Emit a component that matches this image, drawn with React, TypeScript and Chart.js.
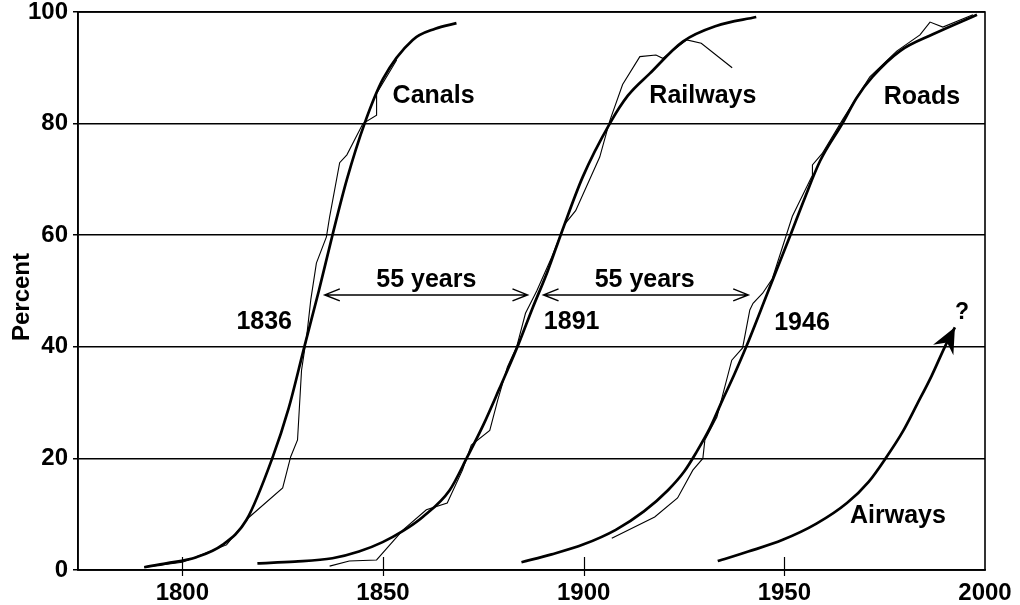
import React, { useEffect, useRef } from "react";
import { Chart, registerables } from "chart.js";

Chart.register(...registerables);

// ---- axis ticks ----
const xTickYears = [1800, 1850, 1900, 1950, 2000];
const yTickPercents = [0, 20, 40, 60, 80, 100];
const yAxisTitle = "Percent";

// ---- Canals ----
const canalsFitYears = [1790.5, 1796, 1803.5, 1810, 1816, 1822.4, 1826.5, 1830.4, 1834, 1837.4, 1841, 1845.4, 1850, 1857.4, 1863, 1868.3];
const canalsFitPct = [0.5, 1.2, 2.3, 4.5, 9, 20, 29, 40, 50, 60, 70, 80, 88, 95, 97, 98];
const canalsObsYears = [1790.5, 1800, 1811, 1816.7, 1825, 1827, 1828.7, 1829.7, 1831, 1832, 1833.4, 1835.9, 1836.7, 1839.2, 1841, 1845, 1848.4, 1848.4, 1853.4];
const canalsObsPct = [0.5, 1.4, 4.5, 9.5, 14.7, 20.3, 23.3, 35.8, 42, 48.4, 55, 59.7, 63.3, 73, 74.4, 80, 81.5, 85.4, 91.4];

// ---- Railways ----
const railFitYears = [1818.7, 1828, 1837.4, 1844, 1849.9, 1855, 1859.9, 1866.6, 1871.1, 1875, 1879, 1883.5, 1887.3, 1891, 1894.5, 1899.8, 1906.5, 1911, 1916.5, 1924.7, 1933, 1943];
const railFitPct = [1.2, 1.5, 2.1, 3.3, 5, 7, 9.5, 14.3, 20.4, 26, 32.5, 40, 47, 53.5, 60.5, 70.5, 80, 85, 89, 94.7, 97.5, 99.1];
const railObsYears = [1836.7, 1841.6, 1848.4, 1855, 1860.8, 1866, 1869.8, 1872, 1876.6, 1878.6, 1881, 1883.3, 1885.5, 1888.3, 1892, 1895.3, 1898, 1904, 1906.5, 1909.7, 1914, 1918, 1919.7, 1925.7, 1929.3, 1937];
const railObsPct = [0.7, 1.6, 1.8, 7.2, 10.8, 12, 17.9, 22.4, 25, 30.5, 36.4, 40, 46, 50, 56, 62, 64.4, 74, 80.5, 87, 92, 92.3, 91.7, 95, 94.4, 90];

// ---- Roads ----
const roadsFitYears = [1884.5, 1892, 1900, 1908, 1915, 1921, 1925, 1928, 1931.5, 1934.5, 1937.5, 1940.5, 1946, 1951.4, 1955, 1958.9, 1964.6, 1968, 1972, 1978.8, 1987, 1998];
const roadsFitPct = [1.4, 2.8, 4.6, 7.2, 10.5, 14.3, 17.6, 21, 25.5, 30.3, 35, 40, 50, 59.8, 66.5, 73.3, 80.2, 84.6, 88.4, 93, 96, 99.5];
const roadsObsYears = [1907, 1917.7, 1923.4, 1927.2, 1929.7, 1930.2, 1933.2, 1936.9, 1939.6, 1941.4, 1942.2, 1944.6, 1947, 1952, 1956.9, 1957, 1959.4, 1964.6, 1971.3, 1978, 1983.8, 1986.3, 1989.5, 1997];
const roadsObsPct = [5.7, 9.5, 12.9, 17.9, 20, 23.3, 27.4, 37.6, 39.8, 46.6, 47.8, 49.6, 52.2, 63.4, 70.6, 72.6, 74.6, 80.8, 88.4, 93, 95.9, 98.2, 97.3, 99.5];

// ---- Airways ----
const airYears = [1933.4, 1941, 1949.6, 1958, 1965.6, 1971, 1975.5, 1979.5, 1983, 1986.7, 1990, 1992.5];
const airPct = [1.6, 3.3, 5.4, 8.3, 12, 15.8, 20.3, 24.8, 29.6, 34.8, 40, 43.5];

// ---- annotations (data coordinates) ----
const labelTexts = ["Canals", "Railways", "Roads", "55 years", "55 years", "1836", "1891", "1946", "Airways", "?"];
const labelYears = [1862.6, 1929.7, 1984.3, 1860.8, 1915.2, 1820.4, 1897, 1954.4, 1978.3, 1994.3];
const labelPcts = [84.9, 84.9, 84.8, 52.0, 52.0, 44.4, 44.4, 44.3, 9.7, 46.1];
const spanStartYears = [1835.5, 1890];
const spanEndYears = [1886, 1941];
const spanPct = 49.3;

const FONT = '"Liberation Sans", Arial, Helvetica, sans-serif';

function pts(xs: number[], ys: number[]) {
  return xs.map((x, i) => ({ x, y: ys[i] }));
}

const fitStyle = {
  borderColor: "#000",
  borderWidth: 2.7,
  pointRadius: 0,
  showLine: true,
  tension: 0.4,
  cubicInterpolationMode: "monotone" as const,
  fill: false,
};
const obsStyle = {
  borderColor: "#000",
  borderWidth: 1.1,
  pointRadius: 0,
  showLine: true,
  tension: 0,
  fill: false,
};

const overlayPlugin = {
  id: "overlay",
  afterDatasetsDraw(chart: any) {
    const { ctx, chartArea: a, scales } = chart;
    const xs = scales.x;
    const ys = scales.y;
    ctx.save();
    ctx.strokeStyle = "#000";
    ctx.fillStyle = "#000";
    // frame
    ctx.lineWidth = 1.6;
    ctx.strokeRect(a.left, a.top, a.right - a.left, a.bottom - a.top);
    // x tick marks crossing the axis
    ctx.lineWidth = 1.2;
    for (const t of xTickYears) {
      if (t >= 2000) continue;
      const px = Math.round(xs.getPixelForValue(t)) + 0.5;
      ctx.beginPath();
      ctx.moveTo(px, a.bottom - 13);
      ctx.lineTo(px, a.bottom + 6);
      ctx.stroke();
    }
    // double-headed arrows
    ctx.lineWidth = 1.5;
    const py = ys.getPixelForValue(spanPct);
    for (let i = 0; i < spanStartYears.length; i++) {
      const x0 = xs.getPixelForValue(spanStartYears[i]);
      const x1 = xs.getPixelForValue(spanEndYears[i]);
      ctx.beginPath();
      ctx.moveTo(x0, py);
      ctx.lineTo(x1, py);
      ctx.moveTo(x0 + 15, py - 6);
      ctx.lineTo(x0, py);
      ctx.lineTo(x0 + 15, py + 6);
      ctx.moveTo(x1 - 15, py - 6);
      ctx.lineTo(x1, py);
      ctx.lineTo(x1 - 15, py + 6);
      ctx.stroke();
    }
    // airways arrowhead
    const n = airYears.length;
    const tx = xs.getPixelForValue(airYears[n - 1]);
    const ty = ys.getPixelForValue(airPct[n - 1]);
    const bx = xs.getPixelForValue(airYears[n - 2]);
    const by = ys.getPixelForValue(airPct[n - 2]);
    const ang = Math.atan2(ty - by, tx - bx);
    const len = 28;
    const spread = 0.42;
    const b1x = tx - len * Math.cos(ang - spread);
    const b1y = ty - len * Math.sin(ang - spread);
    const b2x = tx - len * Math.cos(ang + spread);
    const b2y = ty - len * Math.sin(ang + spread);
    const nx = tx - 17 * Math.cos(ang);
    const ny = ty - 17 * Math.sin(ang);
    ctx.beginPath();
    ctx.moveTo(tx, ty);
    ctx.lineTo(b1x, b1y);
    ctx.lineTo(nx, ny);
    ctx.lineTo(b2x, b2y);
    ctx.closePath();
    ctx.fill();
    // texts
    ctx.textAlign = "center";
    ctx.textBaseline = "middle";
    for (let i = 0; i < labelTexts.length; i++) {
      const px = xs.getPixelForValue(labelYears[i]);
      const pyy = ys.getPixelForValue(labelPcts[i]);
      ctx.font = `bold ${labelTexts[i] === "?" ? 23 : 25}px ${FONT}`;
      ctx.fillText(labelTexts[i], px, pyy);
    }
    // y-axis title
    ctx.save();
    ctx.translate(22, (a.top + a.bottom) / 2 + 6);
    ctx.rotate(-Math.PI / 2);
    ctx.font = `bold 24px ${FONT}`;
    ctx.fillText(yAxisTitle, 0, 0);
    ctx.restore();
    ctx.restore();
  },
};

export default function App() {
  const ref = useRef<HTMLCanvasElement | null>(null);
  useEffect(() => {
    document.body.style.margin = "0";
    const canvas = ref.current;
    if (!canvas) return;
    const chart = new Chart(canvas, {
      type: "scatter",
      data: {
        datasets: [
          { label: "Canals fit", data: pts(canalsFitYears, canalsFitPct), ...fitStyle },
          { label: "Canals", data: pts(canalsObsYears, canalsObsPct), ...obsStyle },
          { label: "Railways fit", data: pts(railFitYears, railFitPct), ...fitStyle },
          { label: "Railways", data: pts(railObsYears, railObsPct), ...obsStyle },
          { label: "Roads fit", data: pts(roadsFitYears, roadsFitPct), ...fitStyle },
          { label: "Roads", data: pts(roadsObsYears, roadsObsPct), ...obsStyle },
          { label: "Airways", data: pts(airYears, airPct), ...fitStyle },
        ] as any,
      },
      options: {
        animation: false,
        responsive: false,
        devicePixelRatio: 1,
        layout: { padding: { top: 12, right: 35, left: 0, bottom: 0 } },
        plugins: {
          legend: { display: false },
          tooltip: { enabled: false },
        },
        scales: {
          x: {
            type: "linear",
            min: 1774,
            max: 2000,
            afterBuildTicks: (s: any) => {
              s.ticks = xTickYears.map((v) => ({ value: v }));
            },
            afterFit: (s: any) => {
              s.height = 35;
              s.paddingLeft = 0;
              s.paddingRight = 0;
            },
            grid: { display: false },
            border: { display: true, color: "#000", width: 1.6 },
            ticks: {
              color: "#000",
              padding: 1,
              maxRotation: 0,
              autoSkip: false,
              callback: (v: any) => String(v),
              font: { family: FONT, size: 24, weight: "bold" },
            },
          },
          y: {
            min: 0,
            max: 100,
            afterBuildTicks: (s: any) => {
              s.ticks = yTickPercents.map((v) => ({ value: v }));
            },
            afterFit: (s: any) => {
              s.width = 78;
              s.paddingTop = 0;
              s.paddingBottom = 0;
            },
            grid: { color: "#000", lineWidth: 1.5, tickLength: 5, drawTicks: true },
            border: { display: true, color: "#000", width: 1.6 },
            ticks: {
              color: "#000",
              padding: 5,
              callback: (v: any) => String(v),
              font: { family: FONT, size: 24, weight: "bold" },
            },
            title: { display: false },
          },
        },
      },
      plugins: [overlayPlugin],
    });
    return () => chart.destroy();
  }, []);
  return (
    <div style={{ width: 1020, height: 605 }}>
      <canvas ref={ref} width={1020} height={605} style={{ display: "block" }} />
    </div>
  );
}
